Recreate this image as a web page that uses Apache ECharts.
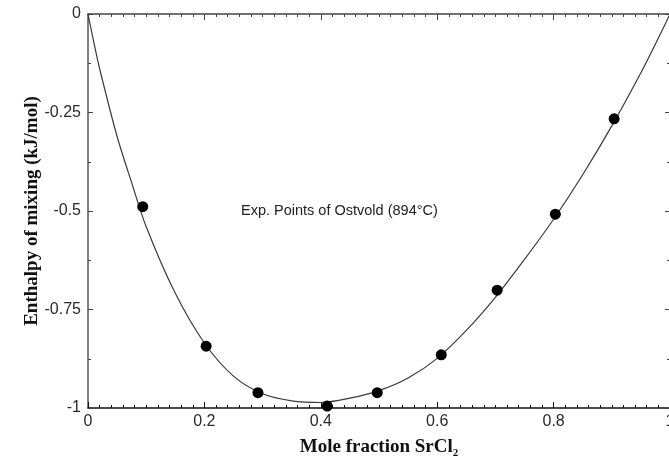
<!DOCTYPE html>
<html>
<head>
<meta charset="utf-8">
<script src="https://cdn.jsdelivr.net/npm/echarts@6/dist/echarts.min.js"></script>
<style>
html,body{margin:0;padding:0;background:#fff;overflow:hidden;}
#c{width:669px;height:459px;}
</style>
</head>
<body>
<div id="c"></div>
<script>
// Fitted curve
var curveX = [0, 0.01, 0.02, 0.05, 0.075, 0.1, 0.15, 0.2, 0.25, 0.3, 0.35, 0.4, 0.45, 0.5, 0.55, 0.6, 0.65, 0.7, 0.75, 0.8, 0.85, 0.9, 0.95, 0.98, 1.0];
var curveY = [0, -0.072, -0.139, -0.311, -0.428, -0.540, -0.709, -0.835, -0.919, -0.964, -0.982, -0.986, -0.975, -0.956, -0.924, -0.874, -0.803, -0.719, -0.623, -0.521, -0.408, -0.284, -0.149, -0.061, 0];
// Experimental points of Ostvold
var pointX = [0.094, 0.203, 0.292, 0.411, 0.497, 0.607, 0.703, 0.803, 0.904];
var pointY = [-0.489, -0.843, -0.961, -0.995, -0.961, -0.865, -0.701, -0.508, -0.266];
var xTicks = [0, 0.2, 0.4, 0.6, 0.8, 1];
var yTicks = [0, -0.25, -0.5, -0.75, -1];
var annotation = 'Exp. Points of Ostvold (894\u00B0C)';
var xName = 'Mole fraction SrCl';
var xNameSub = '2';
var yName = 'Enthalpy of mixing (kJ/mol)';

var curveData = curveX.map(function (x, i) { return [x, curveY[i]]; });
var pointData = pointX.map(function (x, i) { return [x, pointY[i]]; });

var chart = echarts.init(document.getElementById('c'), null, {renderer: 'canvas'});
var labelFont = {fontFamily: 'Liberation Sans, Arial, sans-serif', fontSize: 16, color: '#2a2a2a'};
chart.setOption({
  animation: false,
  backgroundColor: '#fff',
  grid: {left: 88, top: 14, width: 582, height: 394, containLabel: false, outerBoundsMode: 'none'},
  xAxis: [{
    type: 'value', min: xTicks[0], max: xTicks[xTicks.length - 1], interval: 0.2,
    position: 'bottom',
    name: '{a|' + xName + '}{b|' + xNameSub + '}',
    nameLocation: 'middle', nameGap: 30, nameMoveOverlap: false,
    nameTextStyle: {
      rich: {
        a: {fontFamily: 'Liberation Serif, Times New Roman, serif', fontWeight: 'bold', fontSize: 19, color: '#111', verticalAlign: 'bottom', padding: [0, 0, 2, 0]},
        b: {fontFamily: 'Liberation Serif, Times New Roman, serif', fontWeight: 'bold', fontSize: 11, color: '#111', verticalAlign: 'bottom'}
      }
    },
    axisLine: {show: true, onZero: false, lineStyle: {color: '#111', width: 1.5}},
    axisTick: {show: true, inside: true, length: 6, lineStyle: {color: '#111', width: 1}},
    minorTick: {show: true, splitNumber: 10, length: 3, lineStyle: {color: '#111', width: 1}},
    axisLabel: Object.assign({margin: 6, formatter: function (v) { return String(v); }}, labelFont),
    splitLine: {show: false}
  }, {
    type: 'value', min: xTicks[0], max: xTicks[xTicks.length - 1], interval: 0.2,
    position: 'top',
    axisLine: {show: true, onZero: false, lineStyle: {color: '#444', width: 1.5}},
    axisTick: {show: true, inside: true, length: 6, lineStyle: {color: '#444', width: 1}},
    minorTick: {show: true, splitNumber: 10, length: 3, lineStyle: {color: '#444', width: 1}},
    axisLabel: {show: false},
    splitLine: {show: false}
  }],
  yAxis: [{
    type: 'value', min: yTicks[yTicks.length - 1], max: yTicks[0], interval: 0.25,
    position: 'left',
    name: yName, nameLocation: 'middle', nameGap: 46, nameRotate: 90, nameMoveOverlap: false,
    nameTextStyle: {fontFamily: 'Liberation Serif, Times New Roman, serif', fontWeight: 'bold', fontSize: 19, color: '#111'},
    axisLine: {show: true, onZero: false, lineStyle: {color: '#555', width: 1.5}},
    axisTick: {show: true, inside: true, length: 5, lineStyle: {color: '#444', width: 1}},
    minorTick: {show: true, splitNumber: 2, length: 3, lineStyle: {color: '#444', width: 1}},
    axisLabel: Object.assign({margin: 7, formatter: function (v) { return String(v); }}, labelFont),
    splitLine: {show: false}
  }, {
    type: 'value', min: yTicks[yTicks.length - 1], max: yTicks[0], interval: 0.25,
    position: 'right',
    axisLine: {show: false, onZero: false},
    axisTick: {show: true, inside: true, length: 5, lineStyle: {color: '#444', width: 1}},
    minorTick: {show: true, splitNumber: 2, length: 3, lineStyle: {color: '#444', width: 1}},
    axisLabel: {show: false},
    splitLine: {show: false}
  }],
  graphic: [{
    type: 'text', left: 241, top: 203,
    style: {text: annotation, fontFamily: 'Liberation Sans, Arial, sans-serif', fontSize: 14.5, fill: '#222'}
  }],
  series: [{
    type: 'line', data: curveData, smooth: 0.3, showSymbol: false, symbol: 'none',
    lineStyle: {color: '#3a3a3a', width: 1.2}, z: 2
  }, {
    type: 'scatter', data: pointData, symbol: 'circle', symbolSize: 11,
    itemStyle: {color: '#000', opacity: 1}, z: 3
  }]
});
</script>
</body>
</html>
